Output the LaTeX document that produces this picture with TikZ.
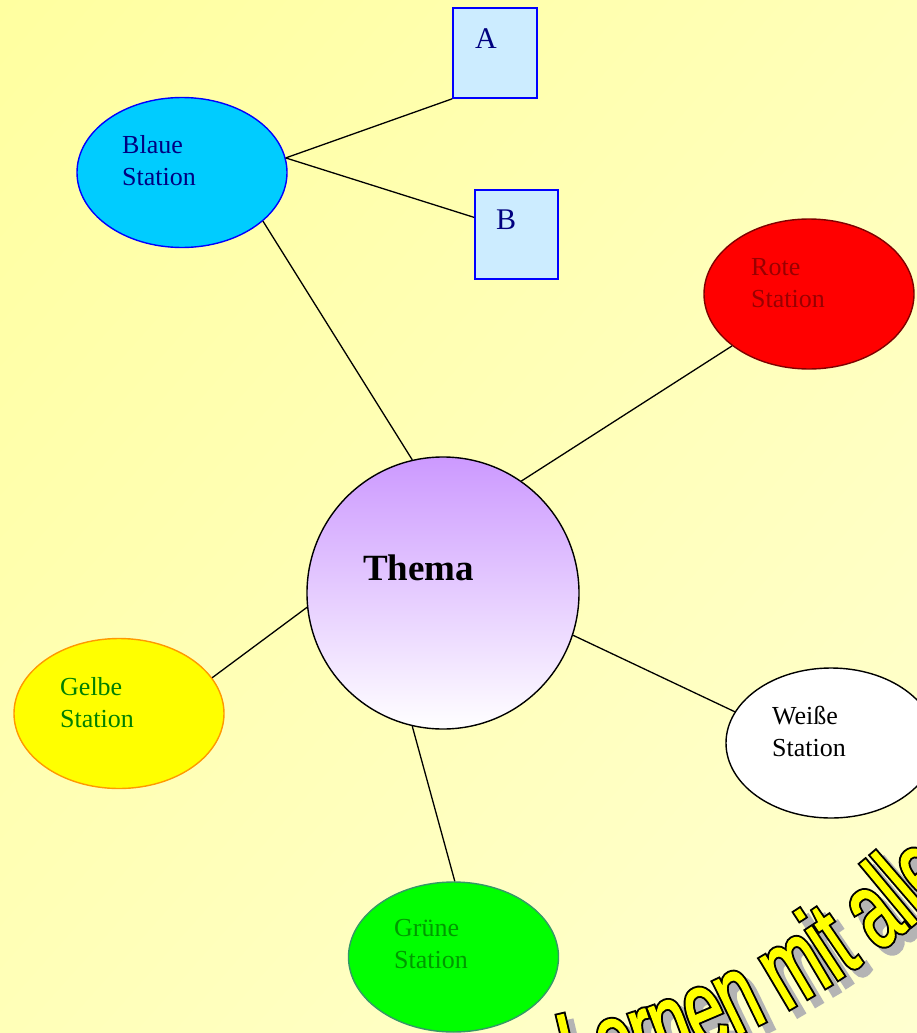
\documentclass[tikz,border=0pt]{standalone}
\usepackage{fontspec}
\setmainfont{Liberation Serif}
\newfontfamily\wordartfont[FakeStretch=0.62,FakeBold=1]{Liberation Sans}
\newfontfamily\wordartoutline[FakeStretch=0.62,FakeBold=4.5]{Liberation Sans}
\usetikzlibrary{shapes.geometric,decorations.text,shadings}
\definecolor{bgTL}{HTML}{FFFFA0}
\definecolor{bgMid}{HTML}{FFFFB8}
\definecolor{bgBR}{HTML}{FFFFD0}
\definecolor{blauefill}{HTML}{00CCFF}
\definecolor{blaueline}{HTML}{0000FF}
\definecolor{navytext}{HTML}{000080}
\definecolor{boxfill}{HTML}{CCECFF}
\definecolor{rotefill}{HTML}{FF0000}
\definecolor{roteline}{HTML}{800000}
\definecolor{rotetext}{HTML}{990000}
\definecolor{gelbefill}{HTML}{FFFF00}
\definecolor{gelbeline}{HTML}{FF9900}
\definecolor{gelbetext}{HTML}{008000}
\definecolor{gruenefill}{HTML}{00FF00}
\definecolor{grueneline}{HTML}{339966}
\definecolor{gruenetext}{HTML}{009900}
\definecolor{thematop}{HTML}{CC99FF}
\definecolor{wordyellow}{HTML}{FFFF00}
\definecolor{wordshadow}{HTML}{B4B4B4}
\newcommand\wafill{\wordartfont\fontsize{110}{110}\selectfont\color{wordyellow}}
\newcommand\waline{\wordartoutline\fontsize{110}{110}\selectfont\color{black}}
\newcommand\washadow{\wordartoutline\fontsize{110}{110}\selectfont\color{wordshadow}}
\begin{document}
\begin{tikzpicture}[x=1pt,y=-1pt,
  station/.style={ellipse, minimum width=210pt, minimum height=150pt, inner sep=0pt, line width=1.4pt},
  lbl/.style={anchor=north west, inner sep=0pt, align=left, font=\fontsize{26}{32}\selectfont},
  boxnode/.style={rectangle, draw=blaueline, fill=boxfill, line width=1.6pt, inner sep=0pt},
  boxlbl/.style={anchor=north west, inner sep=0pt, text=navytext, font=\fontsize{30}{34}\selectfont},
  conn/.style={draw=black, line width=1.3pt}
]
\useasboundingbox (0,0) rectangle (917,1033);
\clip (0,0) rectangle (917,1033);
\shade[upper left=bgTL, upper right=bgMid, lower left=bgMid, lower right=bgBR] (0,0) rectangle (917,1033);

% stations
\node[station, draw=blaueline, fill=blauefill] (blaue) at (182,172.5) {};
\node[station, draw=roteline, fill=rotefill] (rote) at (809,294) {};
\node[station, draw=black, fill=white] (weisse) at (831,743) {};
\node[station, draw=gelbeline, fill=gelbefill] (gelbe) at (119,713.5) {};
\node[station, draw=grueneline, fill=gruenefill] (gruene) at (453.5,957) {};
\node[circle, minimum size=272pt, inner sep=0pt, draw=black, line width=1.4pt, top color=thematop, bottom color=white] (thema) at (443,593) {};

% boxes
\node[boxnode, minimum width=84pt, minimum height=90pt] (A) at (495,53) {};
\node[boxnode, minimum width=83pt, minimum height=89pt] (B) at (516.5,234.5) {};

% connectors
\draw[conn] (blaue.8) -- (A.south west);
\draw[conn] (blaue.8) -- (B.158);
\draw[conn] (blaue.-31) -- (thema.103);
\draw[conn] (thema.55) -- (rote.214);
\draw[conn] (thema.-18) -- (weisse.162.8);
\draw[conn] (thema.186) -- (gelbe.21.7);
\draw[conn] (thema.257) -- (gruene.89);

% labels
\node[lbl, text=navytext] (tblaue) at (122,135) {Blaue\\Station};
\node[lbl, text=rotetext] (trote) at (751,258) {Rote\\Station};
\node[lbl, text=black] (tweisse) at (772,706) {Weiße\\Station};
\node[lbl, text=gelbetext] (tgelbe) at (60,677) {Gelbe\\Station};
\node[lbl, text=gruenetext] (tgruene) at (394,919) {Grüne\\Station};
\node[boxlbl] (ta) at (475,28) {A};
\node[boxlbl] (tb) at (496,210) {B};
\node[anchor=base west, inner sep=0pt, font=\bfseries\fontsize{37}{40}\selectfont] (tthema) at (363,580) {Thema};

% word art
\coordinate (wc) at (403,308);
\coordinate (wcs) at (411,315);
\path[decorate, decoration={text along path, text={|\washadow|Lernen mit allen}}] (wcs) ++(78:800) arc[start angle=78, end angle=30, radius=800];
\path[decorate, decoration={text along path, text={|\waline|Lernen mit allen}}] (wc) ++(78:800) arc[start angle=78, end angle=30, radius=800];
\path[decorate, decoration={text along path, text={|\wafill|Lernen mit allen}}] (wc) ++(78:800) arc[start angle=78, end angle=30, radius=800];
\end{tikzpicture}
\end{document}
